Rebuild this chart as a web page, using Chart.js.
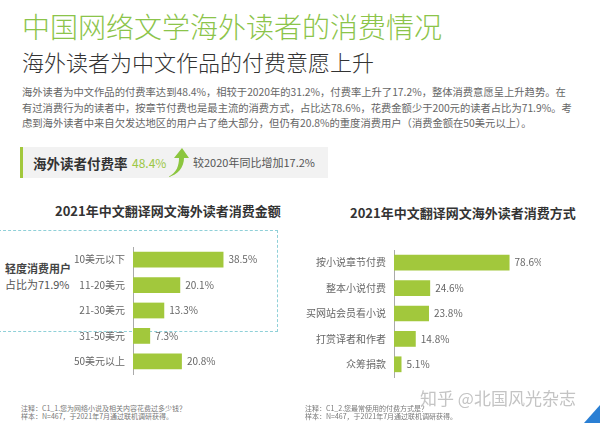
<!DOCTYPE html>
<html lang="zh">
<head>
  <meta charset="UTF-8">
  <title>中国网络文学海外读者的消费情况</title>
  <script src="https://cdn.jsdelivr.net/npm/chart.js"></script>
  <style>
    body {
      margin: 0;
      width: 600px;
      height: 423px;
      overflow: hidden;
      background: #fff;
      font-family: "Noto Sans CJK SC", "Noto Sans", sans-serif;
      position: relative;
    }
    .abs { position: absolute; white-space: nowrap; }
    .title { left: 22px; top: 8px; font-size: 28px; font-weight: 300; color: #8cc44a; line-height: 36px; }
    .subtitle { left: 22px; top: 46px; font-size: 22px; font-weight: 300; color: #333; line-height: 30px; }
    .para { left: 22px; top: 84px; font-size: 10.3px; color: #666; line-height: 15.5px; }
    .box {
      left: 20px; top: 147px; width: 305px; height: 31px;
      background: #f2f2f2; border-left: 3px solid #a2c83c;
    }
    .box .k { position: absolute; left: 10px; top: 6px; font-size: 13.5px; font-weight: bold; color: #333; }
    .box .v { position: absolute; left: 109px; top: 7px; font-size: 12px; color: #9cc744; }
    .box .t { position: absolute; left: 170px; top: 7px; font-size: 11px; color: #555; }
    .ctitle { font-size: 13px; font-weight: bold; color: #333; }
    .dash {
      left: -2px; top: 230px; width: 278px; height: 100px;
      border: 1px dashed #8fd0d8;
    }
    .light { left: 5px; top: 260px; font-size: 11px; color: #555; line-height: 16px; }
    .note { font-size: 7px; color: #777; line-height: 8px; }
    .mark { left: 420px; top: 385px; font-size: 17px; color: #c4c4c4; }
    .corner {
      right: 0; bottom: 0; width: 0; height: 0;
      border-left: 16px solid transparent;
      border-bottom: 18px solid #2a7fd4;
    }
    canvas { position: absolute; }
  </style>
</head>
<body>
  <div class="abs title">中国网络文学海外读者的消费情况</div>
  <div class="abs subtitle">海外读者为中文作品的付费意愿上升</div>
  <div class="abs para">海外读者为中文作品的付费率达到48.4%，相较于2020年的31.2%，付费率上升了17.2%，整体消费意愿呈上升趋势。在<br>有过消费行为的读者中，按章节付费也是最主流的消费方式，占比达78.6%，花费金额少于200元的读者占比为71.9%。考<br>虑到海外读者中来自欠发达地区的用户占了绝大部分，但仍有20.8%的重度消费用户（消费金额在50美元以上）。</div>

  <div class="abs box">
    <span class="k">海外读者付费率</span>
    <span class="v">48.4%</span>
    <svg style="position:absolute;left:142px;top:0" width="24" height="31" viewBox="0 0 24 31">
      <path d="M3 30 C12 26 14 18 14 11 L9 11 L17 1 L24 11 L19 11 C19 20 13 28 3 30 Z" fill="#8cc63f"/>
    </svg>
    <span class="t">较2020年同比增加17.2%</span>
  </div>

  <div class="abs ctitle" style="left:55px;top:201px">2021年中文翻译网文海外读者消费金额</div>
  <div class="abs ctitle" style="left:350px;top:203px">2021年中文翻译网文海外读者消费方式</div>

  <div class="abs dash"></div>
  <div class="abs light"><b style="color:#444">轻度消费用户</b><br>占比为71.9%</div>

  <canvas id="amountChart" width="274" height="155" style="left:0;top:233px"></canvas>
  <canvas id="methodChart" width="241" height="155" style="left:300px;top:236px"></canvas>

  <div class="abs note" style="left:21px;top:404px">注释：C1_1.您为网络小说及相关内容花费过多少钱？<br>样本：N=467，于2021年7月通过联机调研获得。</div>
  <div class="abs note" style="left:305px;top:404px">注释：C1_2.您最常使用的付费方式是？<br>样本：N=467，于2021年7月通过联机调研获得。</div>
  <div class="abs mark">知乎 @北国风光杂志</div>
  <div class="abs corner"></div>

  <script>
    // data
    const amountLabels = ['10美元以下', '11-20美元', '21-30美元', '31-50美元', '50美元以上'];
    const amountValues = [38.5, 20.1, 13.3, 7.3, 20.8];

    const methodLabels = ['按小说章节付费', '整本小说付费', '买网站会员看小说', '打赏译者和作者', '众筹捐款'];
    const methodValues = [78.6, 24.6, 23.8, 14.8, 5.1];

    const barColor = '#a2c83c';
    const fontFamily = '"Noto Sans CJK SC", "Noto Sans", sans-serif';

    // draws "xx.x%" just right of each bar
    const valueLabels = {
      id: 'valueLabels',
      afterDatasetsDraw(chart) {
        const ctx = chart.ctx;
        const meta = chart.getDatasetMeta(0);
        const values = chart.data.datasets[0].data;
        ctx.save();
        ctx.font = '10px ' + fontFamily;
        ctx.fillStyle = '#666';
        ctx.textBaseline = 'middle';
        meta.data.forEach((bar, i) => {
          ctx.fillText(values[i].toFixed(1) + '%', bar.x + 5, bar.y);
        });
        ctx.restore();
      }
    };

    function makeChart(id, labels, values, axisWidth, maxValue) {
      return new Chart(document.getElementById(id), {
        type: 'bar',
        data: {
          labels: labels,
          datasets: [{
            data: values,
            backgroundColor: barColor,
            barPercentage: 0.62,
            categoryPercentage: 1
          }]
        },
        options: {
          indexAxis: 'y',
          responsive: false,
          animation: false,
          layout: { padding: 0 },
          plugins: {
            legend: { display: false },
            tooltip: { enabled: false }
          },
          scales: {
            x: { display: false, min: 0, max: maxValue },
            y: {
              grid: { display: false, drawTicks: false },
              border: { display: true, color: '#aaa', width: 1 },
              ticks: {
                color: '#666',
                padding: 8,
                font: { size: 10, family: fontFamily }
              },
              afterFit(scale) { scale.width = axisWidth; }
            }
          }
        },
        plugins: [valueLabels]
      });
    }

    makeChart('amountChart', amountLabels, amountValues, 133, 60);
    makeChart('methodChart', methodLabels, methodValues, 94, 100);
  </script>
</body>
</html>
